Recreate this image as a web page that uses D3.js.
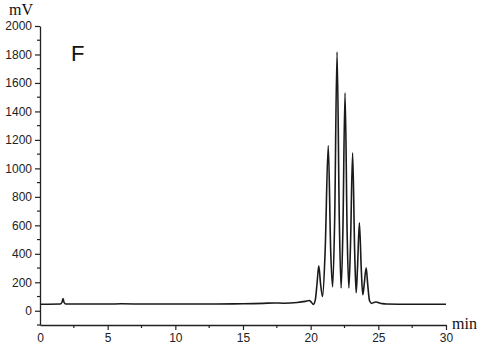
<!DOCTYPE html>
<html>
<head>
<meta charset="utf-8">
<script src="https://cdn.jsdelivr.net/npm/d3@7"></script>
<style>
  html, body { margin: 0; padding: 0; background: #fff; }
  svg { display: block; }
  .tick text { font-family: "Liberation Sans", Arial, sans-serif; font-size: 12px; fill: #222; }
  .unit { font-family: "Liberation Serif", "Times New Roman", serif; font-size: 16px; fill: #111; }
  .panel { font-family: "Liberation Sans", Arial, sans-serif; font-size: 22px; fill: #111; }
</style>
</head>
<body>
<div id="chart"></div>
<script>
// ── Data ────────────────────────────────────────────
const timeMin = [
  0, 1.5, 1.62, 1.7, 1.78, 1.9, 5, 6, 8, 10, 13, 15, 16.5, 17.3, 18, 19, 19.6, 19.9, 20.05, 20.2,
  20.35, 20.47, 20.6, 20.73, 20.88,
  21.07, 21.3, 21.48, 21.62,
  21.77, 21.95, 22.12, 22.25,
  22.38, 22.54, 22.7, 22.82,
  22.94, 23.1, 23.25, 23.36,
  23.46, 23.6, 23.74, 23.85,
  23.95, 24.1, 24.22, 24.35,
  24.5, 24.8, 25.0, 25.3, 25.6, 27, 30
];
const signalMV = [
  46, 47, 58, 85, 58, 47, 47, 49, 47, 48, 48, 49, 52, 55, 53, 58, 66, 72, 60, 45,
  80, 190, 316, 190, 100,
  420, 1160, 420, 168,
  620, 1817, 620, 160,
  560, 1530, 520, 160,
  450, 1109, 420, 126,
  300, 618, 290, 112,
  180, 302, 180, 70,
  52, 62, 57, 50, 47, 46, 46
];
const xTicks = [0, 5, 10, 15, 20, 25, 30];
const yTicks = [0, 200, 400, 600, 800, 1000, 1200, 1400, 1600, 1800, 2000];

// ── Layout ───────────────────────────────────────
const width = 484, height = 348;
const MARGIN = { top: 26, right: 38, bottom: 23, left: 40 };

const svg = d3.select("#chart").append("svg")
  .attr("width", width).attr("height", height);

const x = d3.scaleLinear().domain([0, 30]).range([MARGIN.left, width - MARGIN.right]);
const y = d3.scaleLinear().domain([-100, 2000]).range([height - MARGIN.bottom, MARGIN.top]);

const points = timeMin.map((t, i) => [t, signalMV[i]]);

// Trace
svg.append("path")
  .datum(points)
  .attr("fill", "none")
  .attr("stroke", "#1a1a1a")
  .attr("stroke-width", 1.6)
  .attr("stroke-linejoin", "round")
  .attr("d", d3.line().x(d => x(d[0])).y(d => y(d[1])).curve(d3.curveMonotoneX));

// Minor ticks
const xMinor = d3.range(0, 30.01, 2.5).filter(v => v % 5 !== 0);
const yMinor = d3.range(-100, 2001, 100).filter(v => v % 200 !== 0);

// Axes
const gx = svg.append("g")
  .attr("transform", `translate(0,${height - MARGIN.bottom})`)
  .call(d3.axisBottom(x).tickValues(xTicks).tickFormat(d3.format("d"))
    .tickSize(5).tickPadding(3).tickSizeOuter(0));
gx.selectAll(".tick").filter(d => d === 0).select("line").remove();

const gy = svg.append("g")
  .attr("transform", `translate(${MARGIN.left},0)`)
  .call(d3.axisLeft(y).tickValues(yTicks).tickFormat(d3.format("d"))
    .tickSize(5).tickPadding(3).tickSizeOuter(0));

svg.selectAll(".domain").attr("stroke", "#222").attr("stroke-width", 1.3);
svg.selectAll(".tick line").attr("stroke", "#222").attr("stroke-width", 1.2);

gx.selectAll(".minor").data(xMinor).enter().append("line")
  .attr("class", "minor")
  .attr("x1", d => x(d)).attr("x2", d => x(d))
  .attr("y1", 0).attr("y2", 3)
  .attr("stroke", "#222").attr("stroke-width", 1.2);

gy.selectAll(".minor").data(yMinor).enter().append("line")
  .attr("class", "minor")
  .attr("y1", d => y(d)).attr("y2", d => y(d))
  .attr("x1", 0).attr("x2", -3)
  .attr("stroke", "#222").attr("stroke-width", 1.2);

// Labels
svg.append("text").attr("class", "unit")
  .attr("x", 21).attr("y", 15).attr("text-anchor", "middle").text("mV");
svg.append("text").attr("class", "unit")
  .attr("x", 452).attr("y", 329).text("min");
svg.append("text").attr("class", "panel")
  .attr("x", 71).attr("y", 61).text("F");
</script>
</body>
</html>
